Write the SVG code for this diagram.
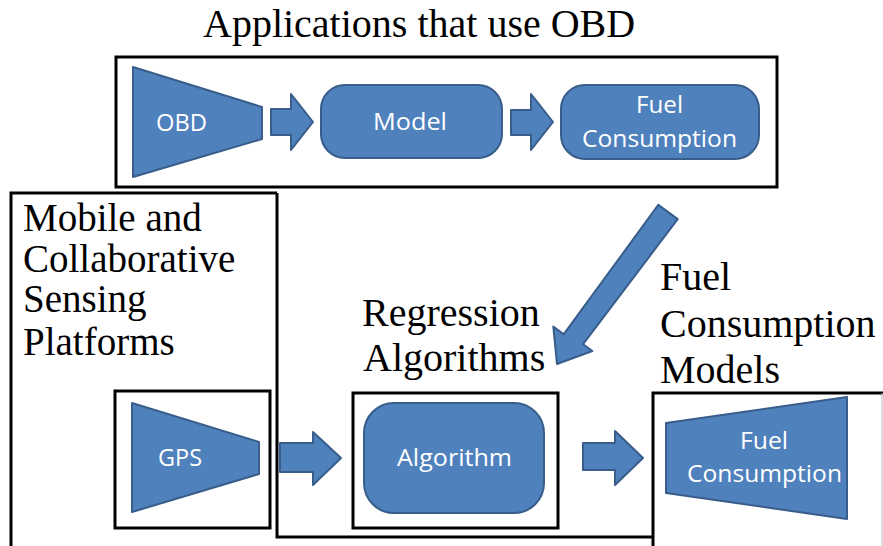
<svg xmlns="http://www.w3.org/2000/svg" width="883" height="546" viewBox="0 0 883 546">
  <style>
    .frame { fill: none; stroke: #000; stroke-width: 3; }
    .shape { fill: #4F81BD; stroke: #385D8A; stroke-width: 2; stroke-linejoin: round; }
    .cap { font-family: "Liberation Serif", "Times New Roman", serif; font-size: 40px; fill: #000; }
    .cap-sm { font-size: 39px; }
    .lbl { font-family: "Open Sans", "Liberation Sans", sans-serif; font-size: 23px; fill: #fff; text-anchor: middle; }
  </style>
  <rect width="883" height="546" fill="#fff"/>

  <!-- section frames and captions -->
  <g id="obd-apps">
    <rect class="frame" x="116" y="57" width="661" height="130"/>
    <text class="cap" x="203" y="37">Applications that use OBD</text>
  </g>
  <g id="sensing-platforms">
    <path class="frame" d="M11,548 V193 H277"/>
    <text class="cap cap-sm" x="23" y="231">Mobile and</text>
    <text class="cap cap-sm" x="23" y="272">Collaborative</text>
    <text class="cap cap-sm" x="23" y="312">Sensing</text>
    <text class="cap cap-sm" x="23" y="355">Platforms</text>
  </g>
  <g id="regression">
    <path class="frame" d="M277,193 V537 H653"/>
    <text class="cap" x="362" y="326">Regression</text>
    <text class="cap" x="363" y="371">Algorithms</text>
  </g>
  <g id="fc-models">
    <path class="frame" d="M653,548 V393 H883"/>
    <line x1="882" y1="393" x2="882" y2="546" stroke="#bbb" stroke-width="1"/>
    <text class="cap" x="660" y="290">Fuel</text>
    <text class="cap" x="660" y="337">Consumption</text>
    <text class="cap" x="660" y="383">Models</text>
  </g>

  <!-- top row -->
  <g id="obd">
    <polygon class="shape" points="133,67 262,107 262,139 133,177"/>
    <text class="lbl" x="181.5" y="131" textLength="51" lengthAdjust="spacingAndGlyphs">OBD</text>
  </g>
  <g id="model">
    <rect class="shape" x="321" y="85" width="181" height="73" rx="24"/>
    <text class="lbl" x="410" y="130" textLength="74" lengthAdjust="spacingAndGlyphs">Model</text>
  </g>
  <g id="fuel-top">
    <rect class="shape" x="561" y="85" width="198" height="74" rx="24"/>
    <text class="lbl" x="659.5" y="113" textLength="47" lengthAdjust="spacingAndGlyphs">Fuel</text>
    <text class="lbl" x="659.5" y="147" textLength="155" lengthAdjust="spacingAndGlyphs">Consumption</text>
  </g>

  <!-- bottom row -->
  <g id="gps">
    <rect class="frame" x="115" y="391" width="155" height="137"/>
    <polygon class="shape" points="132,403 259,442 259,474 132,512"/>
    <text class="lbl" x="180" y="466" textLength="44" lengthAdjust="spacingAndGlyphs">GPS</text>
  </g>
  <g id="algorithm">
    <rect class="frame" x="353" y="393" width="205" height="135"/>
    <rect class="shape" x="364" y="403" width="180" height="110" rx="30"/>
    <text class="lbl" x="454.5" y="466" textLength="115" lengthAdjust="spacingAndGlyphs">Algorithm</text>
  </g>
  <g id="fuel-bottom">
    <polygon class="shape" points="666,423 847,397 847,519 666,493"/>
    <text class="lbl" x="764" y="449" textLength="48" lengthAdjust="spacingAndGlyphs">Fuel</text>
    <text class="lbl" x="764.5" y="482" textLength="155" lengthAdjust="spacingAndGlyphs">Consumption</text>
  </g>

  <!-- connectors: block arrows -->
  <g id="connectors">
    <polygon class="shape" points="271,109 291,109 291,94 313,122 291,150 291,135 271,135"/>
    <polygon class="shape" points="511,110 531,110 531,94 553,122 531,150 531,135 511,135"/>
    <polygon class="shape" points="280,443 313,443 313,432 341,458 313,485 313,472 280,472"/>
    <polygon class="shape" points="583,443 615,443 615,431 643,458 615,485 615,470 583,470"/>
    <polygon class="shape" points="658.3,204.9 563.8,334.2 553.3,326.6 557,364 592.4,351.0 583.1,344.2 677.7,219.1"/>
  </g>
</svg>
